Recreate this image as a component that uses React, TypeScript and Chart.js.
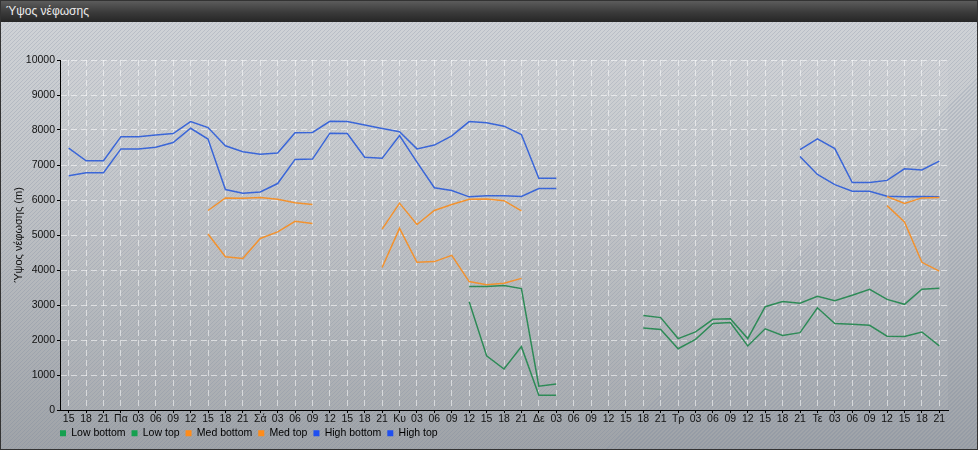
import { useEffect, useRef } from "react";
import { Chart, registerables } from "chart.js";

Chart.register(...registerables);

const labels = [
  "15", "18", "21",
  "Πα", "03", "06", "09", "12", "15", "18", "21",
  "Σά", "03", "06", "09", "12", "15", "18", "21",
  "Κυ", "03", "06", "09", "12", "15", "18", "21",
  "Δε", "03", "06", "09", "12", "15", "18", "21",
  "Τρ", "03", "06", "09", "12", "15", "18", "21",
  "Τε", "03", "06", "09", "12", "15", "18", "21",
];

const N = null;

const lowBottom = [
  N, N, N, N, N, N, N, N, N, N, N, N, N, N, N, N, N, N, N, N, N, N, N,
  3090, 1550, 1170, 1810, 420, 420,
  N, N, N, N,
  2340, 2300, 1750, 2020, 2470, 2500, 1830, 2320, 2130, 2210, 2920, 2470, 2450, 2420, 2110, 2100, 2230, 1830,
];

const lowTop = [
  N, N, N, N, N, N, N, N, N, N, N, N, N, N, N, N, N, N, N, N, N, N, N,
  3530, 3530, 3560, 3470, 680, 740,
  N, N, N, N,
  2700, 2640, 2040, 2230, 2590, 2610, 2040, 2950, 3100, 3050, 3250, 3120, 3280, 3450, 3160, 3020, 3450, 3480,
];

const medBottom = [
  N, N, N, N, N, N, N, N,
  5030, 4380, 4330, 4900, 5090, 5390, 5330,
  N, N, N,
  4070, 5190, 4220, 4240, 4420, 3670, 3580, 3620, 3760,
  N, N, N, N, N, N, N, N, N, N, N, N, N, N, N, N, N, N, N, N,
  5840, 5370, 4220, 3970,
];

const medTop = [
  N, N, N, N, N, N, N, N,
  5700, 6060, 6050, 6070, 6020, 5920, 5870,
  N, N, N,
  5170, 5910, 5300, 5700, 5870, 6020, 6030, 5980, 5690,
  N, N, N, N, N, N, N, N, N, N, N, N, N, N, N, N, N, N, N, N,
  6100, 5900, 6060, 6070,
];

const highBottom = [
  6690, 6780, 6780, 7460, 7460, 7510, 7640, 8050, 7740, 6300, 6190, 6230, 6470, 7160, 7170,
  7910, 7900, 7220, 7190, 7840, 7080, 6350, 6270, 6090, 6120, 6120, 6100, 6330, 6330,
  N, N, N, N, N, N, N, N, N, N, N, N, N,
  7240, 6730, 6440, 6250, 6250, 6110, 6090, 6100, 6090,
];

const highTop = [
  7480, 7120, 7120, 7810, 7810, 7860, 7900, 8240, 8070, 7550, 7380, 7310, 7340, 7920, 7930,
  8250, 8240, 8140, 8040, 7950, 7460, 7570, 7830, 8240, 8210, 8110, 7870, 6620, 6620,
  N, N, N, N, N, N, N, N, N, N, N, N, N,
  7440, 7750, 7470, 6500, 6500, 6560, 6890, 6860, 7110,
];

const seriesNames = ["Low bottom", "Low top", "Med bottom", "Med top", "High bottom", "High top"];
const yTicksMin = 0;
const yTicksMax = 10000;
const yTicksStep = 1000;

const FONT = "'Liberation Sans', Arial, sans-serif";

const GREEN = "#2e8b57";
const ORANGE = "#f2922f";
const BLUE = "#3a66d8";
const GREEN_BOX = "#15a04f";
const ORANGE_BOX = "#ff8c1a";
const BLUE_BOX = "#1f4ff0";

export default function App() {
  const ref = useRef<HTMLCanvasElement | null>(null);

  useEffect(() => {
    if (!ref.current) return;
    const series = [lowBottom, lowTop, medBottom, medTop, highBottom, highTop];
    const lineColors = [GREEN, GREEN, ORANGE, ORANGE, BLUE, BLUE];
    const boxColors = [GREEN_BOX, GREEN_BOX, ORANGE_BOX, ORANGE_BOX, BLUE_BOX, BLUE_BOX];

    const legendPos = {
      id: "legendPos",
      afterLayout(chart: any) {
        const l = chart.legend;
        if (!l) return;
        const h = l.height;
        l.left = 53;
        l.right = 960;
        l.top = 400;
        l.bottom = l.top + h;
      },
    };

    const areaBg = {
      id: "areaBg",
      beforeDraw(chart: any) {
        const { ctx, chartArea } = chart;
        if (!chartArea) return;
        ctx.save();
        ctx.fillStyle = "rgba(255,255,255,0.06)";
        ctx.fillRect(chartArea.left, chartArea.top, chartArea.right - chartArea.left, chartArea.bottom - chartArea.top);
        ctx.restore();
      },
    };

    const chart = new Chart(ref.current, {
      type: "line",
      data: {
        labels,
        datasets: series.map((d, i) => ({
          label: seriesNames[i],
          data: d,
          borderColor: lineColors[i],
          backgroundColor: boxColors[i],
          borderWidth: 1.5,
          pointRadius: 0,
          pointHoverRadius: 0,
          tension: 0,
          spanGaps: false,
          fill: false,
        })),
      },
      options: {
        animation: false,
        responsive: false,
        maintainAspectRatio: false,
        layout: { padding: { top: 38, left: 7, right: 29, bottom: 0 } },
        plugins: {
          tooltip: { enabled: false },
          title: { display: false },
          legend: {
            display: true,
            position: "bottom",
            align: "start",
            maxHeight: 20,
            labels: {
              boxWidth: 6,
              boxHeight: 6,
              padding: 6,
              color: "#111",
              font: { size: 10.5, family: FONT },
              generateLabels: (chart: any) =>
                chart.data.datasets.map((ds: any, i: number) => ({
                  text: ds.label,
                  fillStyle: boxColors[i],
                  strokeStyle: boxColors[i],
                  lineWidth: 0,
                  hidden: false,
                  datasetIndex: i,
                })),
            },
          },
        },
        scales: {
          x: {
            type: "category",
            offset: true,
            afterFit: (s: any) => {
              s.height = 19;
            },
            grid: {
              display: true,
              color: "rgba(255,255,255,0.55)",
              lineWidth: 1,
              offset: false,
              drawTicks: true,
              tickLength: 3,
              tickColor: "#000",
              tickWidth: 1,
              tickBorderDash: [],
            },
            border: { display: true, color: "#000", width: 1, dash: [6, 4] },
            ticks: {
              autoSkip: false,
              maxRotation: 0,
              minRotation: 0,
              padding: 0,
              color: "#111",
              font: { size: 10.5, family: FONT },
            },
          },
          y: {
            type: "linear",
            min: yTicksMin,
            max: yTicksMax,
            afterFit: (s: any) => {
              s.width = 52;
            },
            grid: {
              display: true,
              color: "rgba(255,255,255,0.55)",
              lineWidth: 1,
              drawTicks: true,
              tickLength: 3,
              tickColor: "#000",
              tickWidth: 1,
              tickBorderDash: [],
            },
            border: { display: true, color: "#000", width: 1, dash: [6, 4] },
            ticks: {
              stepSize: yTicksStep,
              padding: 2,
              color: "#111",
              font: { size: 10.5, family: FONT },
              callback: (v: any) => String(v),
            },
            title: {
              display: true,
              text: "Ύψος νέφωσης (m)",
              color: "#111",
              font: { size: 11, family: FONT },
              padding: { top: 4, bottom: 0 },
            },
          },
        },
      },
      plugins: [legendPos, areaBg],
    } as any);

    return () => chart.destroy();
  }, []);

  return (
    <div>
      <style>{`html,body{margin:0;padding:0;overflow:hidden;}`}</style>
      <div
        style={{
          position: "relative",
          width: 978,
          height: 450,
          boxSizing: "border-box",
          border: "1px solid #333",
          background:
            "repeating-linear-gradient(135deg, rgba(110,125,150,0.22) 0px, rgba(110,125,150,0.22) 1px, rgba(255,255,255,0) 1px, rgba(255,255,255,0) 2.83px), linear-gradient(to bottom, #d1d4d8 0%, #bfc2c6 45%, #9fa3a8 100%)",
          overflow: "hidden",
          fontFamily: FONT,
        }}
      >
        <div
          style={{
            position: "absolute",
            left: 0,
            top: 0,
            width: 976,
            height: 21,
            background: "linear-gradient(to bottom, #5c5c5c 0%, #3a3a3a 55%, #262626 100%)",
            color: "#ececec",
            fontSize: 12,
            lineHeight: "21px",
            paddingLeft: 5,
            boxSizing: "border-box",
            fontFamily: FONT,
          }}
        >
          Ύψος νέφωσης
        </div>
        <canvas
          ref={ref}
          width={976}
          height={427}
          style={{ position: "absolute", left: 0, top: 21, width: 976, height: 427, display: "block" }}
        />
      </div>
    </div>
  );
}
